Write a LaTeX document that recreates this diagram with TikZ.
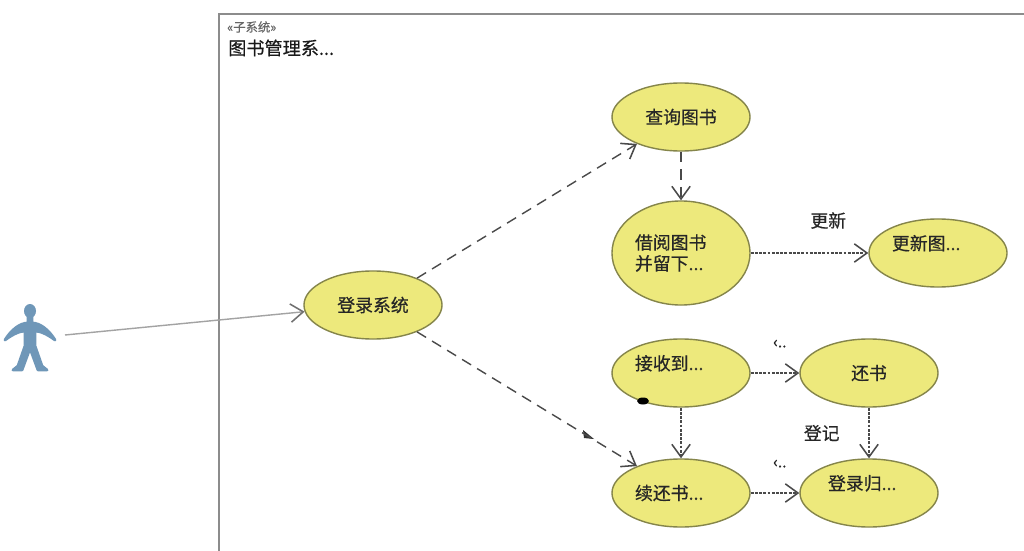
\documentclass[tikz,border=0pt]{standalone}
\usepackage{fontspec}
\setmainfont[FakeBold=0.5]{Noto Sans CJK SC}
\usetikzlibrary{shapes.geometric,arrows.meta}
\definecolor{ucfill}{HTML}{EDE97C}
\definecolor{ucline}{HTML}{85854A}
\definecolor{framegray}{HTML}{8C8C8C}
\definecolor{actorblue}{HTML}{6F97B8}
\definecolor{inkgray}{HTML}{4A4A4A}
\tikzset{
	usecase/.style={ellipse, draw=ucline, fill=ucfill, line width=1pt, inner sep=0pt,
		minimum width=3.45cm, minimum height=1.7cm, text width=2.3cm, align=left,
		text=black!85, font=\fontsize{12.7}{14.9}\selectfont},
	depend/.style={draw=inkgray, line width=1pt, dash pattern=on 7.5pt off 5pt,
		-{Straight Barb[length=9pt,width=13pt,line width=1.1pt]}},
	nearly/.style={depend, dash pattern=on 2pt off 1pt},
	edgetext/.style={text=black!85, font=\fontsize{12.7}{14}\selectfont},
	smalltext/.style={text=black!85, font=\fontsize{11}{12}\selectfont},
}
\begin{document}
\begin{tikzpicture}[x=0.025cm, y=-0.025cm]
	\useasboundingbox (0,0) rectangle (1024,551);
	\fill[white] (0,0) rectangle (1024,551);
	% system frame
	\draw[framegray, line width=1pt] (219,551) -- (219,14) -- (1024,14);
	\node (stereo) at (227,27) [anchor=west, inner sep=0pt, text=black!60, font=\fontsize{8.8}{10}\selectfont] {«子系统»};
	\node (sysname) at (228,48) [anchor=west, inner sep=0pt, text=black!90, font=\fontsize{12.9}{14.9}\selectfont] {图书管理系...};
	% actor
	\coordinate (actor) at (65,335);
	\fill[actorblue] (30,311) ellipse [x radius=6, y radius=7];
	\filldraw[actorblue, line width=2pt, line join=round]
		(28,316) -- (28,323) .. controls (20,323) and (11,330) .. (5,340)
		.. controls (13,334) and (20,331) .. (25,331)
		-- (25,346) -- (18,366) -- (13,370) -- (22,370) -- (29,351) -- (31,351) -- (38,370) -- (47,370) -- (42,366) -- (35,346) -- (35,331)
		.. controls (40,331) and (47,334) .. (55,340)
		.. controls (49,330) and (40,323) .. (32,323) -- (32,316) -- cycle;
	% use cases
	\node (login) at (373,305) [usecase, align=center] {登录系统};
	\node (query) at (681,117) [usecase, align=center] {查询图书};
		\node (borrow) at (681,253) [usecase, minimum height=2.6cm] {借阅图书\\并留下...};
			\node (update) at (938,253) [usecase] {更新图...\\~};
	\node (receive) at (681,373) [usecase] {接收到...\\~};
		\node (giveback) at (869,373) [usecase, align=center] {还书};
		\node (renew) at (681,493) [usecase] {续还书...};
			\node (record) at (869,493) [usecase, text width=2.05cm] {登录归...\\~};
	% smudges
	\fill[black] (643,401) ellipse [x radius=6, y radius=3.5];
	\fill[black!80] (583,430) -- (594,439) -- (584,438) -- cycle;
	% connectors
	\draw[framegray!80, line width=1pt, -{Straight Barb[length=9pt,width=13pt,line width=1.1pt,color=framegray!80!black]}] (actor) -- (login);
	\draw[depend] (login) -- (query);
	\draw[depend] (login) -- (renew);
	\draw[depend] (query) -- (borrow);
	\draw[nearly] (borrow) to node [edgetext, pos=.66, above=0.47cm] {更新} (update);
	\draw[nearly] (receive) to node [smalltext, pos=.6, above=0.5cm] {‹..} (giveback);
	\draw[nearly] (renew) to node [smalltext, pos=.6, above=0.5cm] {‹..} (record);
	\draw[nearly] (receive) -- (renew);
	\draw[nearly] (giveback) to node [edgetext, left=0.6cm] {登记} (record);
\end{tikzpicture}
\end{document}
